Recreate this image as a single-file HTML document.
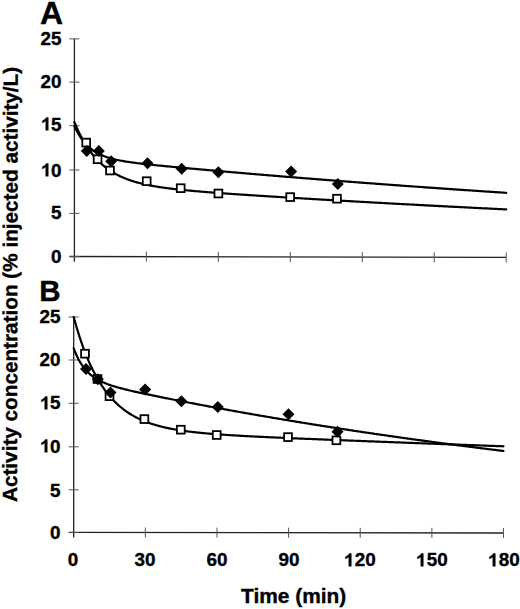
<!DOCTYPE html>
<html><head><meta charset="utf-8"><style>
html,body{margin:0;padding:0;background:#fff;}
body{width:520px;height:609px;position:relative;overflow:hidden;font-family:"Liberation Sans",sans-serif;font-weight:bold;color:#000;-webkit-text-stroke:0.35px #000;}
svg.main{position:absolute;left:0;top:0;}
.yt{position:absolute;left:0;width:61px;text-align:right;font-size:18.7px;line-height:21px;transform:scaleX(1.01);transform-origin:100% 50%;}
.xt{position:absolute;top:549px;width:60px;text-align:center;font-size:18.7px;line-height:21px;transform:scaleX(1.01);transform-origin:50% 50%;}
.one{width:0.5562em;height:0.7158em;vertical-align:baseline;display:inline-block;overflow:visible;}
.one path{fill:#000;stroke:#000;stroke-width:38px;}
.pl{position:absolute;font-size:30.5px;line-height:34px;}
.xl{position:absolute;left:241px;top:584px;font-size:20.5px;line-height:24px;white-space:nowrap;transform:scaleX(1.02);transform-origin:0 0;}
.yl{position:absolute;left:0;top:0;font-size:20.5px;line-height:24px;white-space:nowrap;transform-origin:0 0;}
</style></head><body>
<svg class="main" width="520" height="609" viewBox="0 0 520 609">
<line x1="74.40" y1="38.80" x2="74.40" y2="261.70" stroke="#222" stroke-width="1.3"/>
<line x1="69.40" y1="256.50" x2="506.20" y2="257.40" stroke="#222" stroke-width="1.3"/>
<line x1="69.40" y1="256.60" x2="79.40" y2="256.60" stroke="#555" stroke-width="1"/>
<line x1="69.40" y1="213.40" x2="79.40" y2="213.40" stroke="#555" stroke-width="1"/>
<line x1="69.40" y1="170.00" x2="79.40" y2="170.00" stroke="#555" stroke-width="1"/>
<line x1="69.40" y1="125.70" x2="79.40" y2="125.70" stroke="#555" stroke-width="1"/>
<line x1="69.40" y1="82.10" x2="79.40" y2="82.10" stroke="#555" stroke-width="1"/>
<line x1="69.40" y1="38.90" x2="79.40" y2="38.90" stroke="#555" stroke-width="1"/>
<line x1="146.37" y1="251.66" x2="146.37" y2="261.66" stroke="#555" stroke-width="1"/>
<line x1="218.33" y1="251.81" x2="218.33" y2="261.81" stroke="#555" stroke-width="1"/>
<line x1="290.30" y1="251.96" x2="290.30" y2="261.96" stroke="#555" stroke-width="1"/>
<line x1="362.27" y1="252.10" x2="362.27" y2="262.10" stroke="#555" stroke-width="1"/>
<line x1="434.23" y1="252.25" x2="434.23" y2="262.25" stroke="#555" stroke-width="1"/>
<line x1="506.20" y1="252.40" x2="506.20" y2="262.40" stroke="#555" stroke-width="1"/>
<path d="M74.40,125.96 L75.60,128.52 L76.80,130.90 L78.00,133.09 L79.20,135.13 L80.40,137.02 L81.60,138.77 L82.80,140.39 L84.00,141.90 L85.20,143.30 L86.39,144.60 L87.59,145.81 L88.79,146.93 L89.99,147.98 L91.19,148.95 L92.39,149.86 L93.59,150.71 L94.79,151.50 L95.99,152.23 L97.19,152.92 L98.39,153.57 L99.59,154.17 L100.79,154.74 L101.99,155.27 L103.19,155.77 L104.39,156.24 L105.59,156.68 L106.78,157.10 L107.98,157.49 L109.18,157.86 L110.38,158.22 L111.58,158.55 L112.78,158.87 L113.98,159.17 L115.18,159.45 L116.38,159.73 L117.58,159.99 L118.78,160.24 L119.98,160.48 L121.18,160.71 L122.38,160.93 L123.58,161.14 L124.78,161.34 L125.98,161.54 L127.18,161.73 L128.38,161.92 L129.57,162.10 L130.77,162.27 L131.97,162.44 L133.17,162.61 L134.37,162.77 L135.57,162.93 L136.77,163.08 L137.97,163.23 L139.17,163.38 L140.37,163.52 L141.57,163.66 L142.77,163.80 L143.97,163.94 L145.17,164.08 L146.37,164.21 L147.57,164.34 L148.77,164.47 L149.97,164.60 L151.16,164.73 L152.36,164.86 L153.56,164.98 L154.76,165.11 L155.96,165.23 L157.16,165.35 L158.36,165.47 L159.56,165.59 L160.76,165.71 L161.96,165.83 L163.16,165.95 L164.36,166.07 L165.56,166.18 L166.76,166.30 L167.96,166.41 L169.16,166.53 L170.36,166.64 L171.56,166.76 L172.75,166.87 L173.95,166.98 L175.15,167.10 L176.35,167.21 L177.55,167.32 L178.75,167.43 L179.95,167.54 L181.15,167.66 L182.35,167.77 L183.55,167.88 L184.75,167.99 L185.95,168.10 L187.15,168.21 L188.35,168.32 L189.55,168.43 L190.75,168.53 L191.95,168.64 L193.14,168.75 L194.34,168.86 L195.54,168.97 L196.74,169.08 L197.94,169.19 L199.14,169.29 L200.34,169.40 L201.54,169.51 L202.74,169.61 L203.94,169.72 L205.14,169.83 L206.34,169.94 L207.54,170.04 L208.74,170.15 L209.94,170.25 L211.14,170.36 L212.34,170.47 L213.54,170.57 L214.73,170.68 L215.93,170.78 L217.13,170.89 L218.33,170.99 L219.53,171.10 L220.73,171.20 L221.93,171.31 L223.13,171.41 L224.33,171.52 L225.53,171.62 L226.73,171.73 L227.93,171.83 L229.13,171.94 L230.33,172.04 L231.53,172.14 L232.73,172.25 L233.93,172.35 L235.13,172.45 L236.32,172.56 L237.52,172.66 L238.72,172.76 L239.92,172.86 L241.12,172.97 L242.32,173.07 L243.52,173.17 L244.72,173.27 L245.92,173.38 L247.12,173.48 L248.32,173.58 L249.52,173.68 L250.72,173.78 L251.92,173.89 L253.12,173.99 L254.32,174.09 L255.52,174.19 L256.72,174.29 L257.91,174.39 L259.11,174.49 L260.31,174.59 L261.51,174.69 L262.71,174.79 L263.91,174.89 L265.11,174.99 L266.31,175.09 L267.51,175.19 L268.71,175.29 L269.91,175.39 L271.11,175.49 L272.31,175.59 L273.51,175.69 L274.71,175.79 L275.91,175.89 L277.11,175.99 L278.31,176.09 L279.50,176.19 L280.70,176.29 L281.90,176.38 L283.10,176.48 L284.30,176.58 L285.50,176.68 L286.70,176.78 L287.90,176.87 L289.10,176.97 L290.30,177.07 L291.50,177.17 L292.70,177.26 L293.90,177.36 L295.10,177.46 L296.30,177.56 L297.50,177.65 L298.70,177.75 L299.90,177.85 L301.10,177.94 L302.29,178.04 L303.49,178.14 L304.69,178.23 L305.89,178.33 L307.09,178.42 L308.29,178.52 L309.49,178.62 L310.69,178.71 L311.89,178.81 L313.09,178.90 L314.29,179.00 L315.49,179.09 L316.69,179.19 L317.89,179.28 L319.09,179.38 L320.29,179.47 L321.49,179.57 L322.68,179.66 L323.88,179.75 L325.08,179.85 L326.28,179.94 L327.48,180.04 L328.68,180.13 L329.88,180.22 L331.08,180.32 L332.28,180.41 L333.48,180.50 L334.68,180.60 L335.88,180.69 L337.08,180.78 L338.28,180.88 L339.48,180.97 L340.68,181.06 L341.88,181.16 L343.08,181.25 L344.27,181.34 L345.47,181.43 L346.67,181.52 L347.87,181.62 L349.07,181.71 L350.27,181.80 L351.47,181.89 L352.67,181.98 L353.87,182.08 L355.07,182.17 L356.27,182.26 L357.47,182.35 L358.67,182.44 L359.87,182.53 L361.07,182.62 L362.27,182.71 L363.47,182.80 L364.67,182.89 L365.87,182.98 L367.06,183.07 L368.26,183.16 L369.46,183.25 L370.66,183.34 L371.86,183.43 L373.06,183.52 L374.26,183.61 L375.46,183.70 L376.66,183.79 L377.86,183.88 L379.06,183.97 L380.26,184.06 L381.46,184.15 L382.66,184.24 L383.86,184.33 L385.06,184.41 L386.26,184.50 L387.45,184.59 L388.65,184.68 L389.85,184.77 L391.05,184.86 L392.25,184.94 L393.45,185.03 L394.65,185.12 L395.85,185.21 L397.05,185.29 L398.25,185.38 L399.45,185.47 L400.65,185.56 L401.85,185.64 L403.05,185.73 L404.25,185.82 L405.45,185.90 L406.65,185.99 L407.85,186.08 L409.04,186.16 L410.24,186.25 L411.44,186.34 L412.64,186.42 L413.84,186.51 L415.04,186.59 L416.24,186.68 L417.44,186.77 L418.64,186.85 L419.84,186.94 L421.04,187.02 L422.24,187.11 L423.44,187.19 L424.64,187.28 L425.84,187.36 L427.04,187.45 L428.24,187.53 L429.44,187.62 L430.63,187.70 L431.83,187.79 L433.03,187.87 L434.23,187.96 L435.43,188.04 L436.63,188.12 L437.83,188.21 L439.03,188.29 L440.23,188.38 L441.43,188.46 L442.63,188.54 L443.83,188.63 L445.03,188.71 L446.23,188.79 L447.43,188.88 L448.63,188.96 L449.83,189.04 L451.03,189.12 L452.23,189.21 L453.42,189.29 L454.62,189.37 L455.82,189.45 L457.02,189.54 L458.22,189.62 L459.42,189.70 L460.62,189.78 L461.82,189.87 L463.02,189.95 L464.22,190.03 L465.42,190.11 L466.62,190.19 L467.82,190.27 L469.02,190.35 L470.22,190.44 L471.42,190.52 L472.62,190.60 L473.81,190.68 L475.01,190.76 L476.21,190.84 L477.41,190.92 L478.61,191.00 L479.81,191.08 L481.01,191.16 L482.21,191.24 L483.41,191.32 L484.61,191.40 L485.81,191.48 L487.01,191.56 L488.21,191.64 L489.41,191.72 L490.61,191.80 L491.81,191.88 L493.01,191.96 L494.21,192.04 L495.40,192.12 L496.60,192.20 L497.80,192.28 L499.00,192.36 L500.20,192.43 L501.40,192.51 L502.60,192.59 L503.80,192.67 L505.00,192.75 L506.20,192.83" fill="none" stroke="#000" stroke-width="2.2" stroke-linejoin="round" stroke-linecap="round"/>
<path d="M74.40,122.11 L75.60,124.99 L76.80,127.75 L78.00,130.38 L79.20,132.89 L80.40,135.29 L81.60,137.59 L82.80,139.79 L84.00,141.89 L85.20,143.89 L86.39,145.81 L87.59,147.65 L88.79,149.41 L89.99,151.09 L91.19,152.69 L92.39,154.23 L93.59,155.70 L94.79,157.11 L95.99,158.46 L97.19,159.74 L98.39,160.98 L99.59,162.16 L100.79,163.29 L101.99,164.38 L103.19,165.42 L104.39,166.41 L105.59,167.36 L106.78,168.28 L107.98,169.15 L109.18,169.99 L110.38,170.80 L111.58,171.57 L112.78,172.31 L113.98,173.02 L115.18,173.70 L116.38,174.36 L117.58,174.98 L118.78,175.59 L119.98,176.17 L121.18,176.73 L122.38,177.26 L123.58,177.78 L124.78,178.27 L125.98,178.75 L127.18,179.21 L128.38,179.65 L129.57,180.07 L130.77,180.48 L131.97,180.88 L133.17,181.26 L134.37,181.62 L135.57,181.98 L136.77,182.32 L137.97,182.65 L139.17,182.96 L140.37,183.27 L141.57,183.57 L142.77,183.85 L143.97,184.13 L145.17,184.40 L146.37,184.66 L147.57,184.91 L148.77,185.16 L149.97,185.39 L151.16,185.62 L152.36,185.85 L153.56,186.06 L154.76,186.27 L155.96,186.48 L157.16,186.68 L158.36,186.87 L159.56,187.06 L160.76,187.24 L161.96,187.42 L163.16,187.59 L164.36,187.76 L165.56,187.93 L166.76,188.09 L167.96,188.25 L169.16,188.40 L170.36,188.55 L171.56,188.70 L172.75,188.85 L173.95,188.99 L175.15,189.13 L176.35,189.26 L177.55,189.40 L178.75,189.53 L179.95,189.66 L181.15,189.78 L182.35,189.91 L183.55,190.03 L184.75,190.15 L185.95,190.27 L187.15,190.38 L188.35,190.50 L189.55,190.61 L190.75,190.72 L191.95,190.83 L193.14,190.94 L194.34,191.05 L195.54,191.15 L196.74,191.26 L197.94,191.36 L199.14,191.46 L200.34,191.56 L201.54,191.66 L202.74,191.76 L203.94,191.86 L205.14,191.96 L206.34,192.05 L207.54,192.15 L208.74,192.24 L209.94,192.33 L211.14,192.43 L212.34,192.52 L213.54,192.61 L214.73,192.70 L215.93,192.79 L217.13,192.88 L218.33,192.97 L219.53,193.06 L220.73,193.14 L221.93,193.23 L223.13,193.32 L224.33,193.40 L225.53,193.49 L226.73,193.57 L227.93,193.66 L229.13,193.74 L230.33,193.83 L231.53,193.91 L232.73,193.99 L233.93,194.07 L235.13,194.16 L236.32,194.24 L237.52,194.32 L238.72,194.40 L239.92,194.48 L241.12,194.56 L242.32,194.64 L243.52,194.72 L244.72,194.80 L245.92,194.88 L247.12,194.96 L248.32,195.04 L249.52,195.12 L250.72,195.20 L251.92,195.27 L253.12,195.35 L254.32,195.43 L255.52,195.51 L256.72,195.58 L257.91,195.66 L259.11,195.74 L260.31,195.82 L261.51,195.89 L262.71,195.97 L263.91,196.05 L265.11,196.12 L266.31,196.20 L267.51,196.27 L268.71,196.35 L269.91,196.42 L271.11,196.50 L272.31,196.57 L273.51,196.65 L274.71,196.72 L275.91,196.80 L277.11,196.87 L278.31,196.95 L279.50,197.02 L280.70,197.10 L281.90,197.17 L283.10,197.24 L284.30,197.32 L285.50,197.39 L286.70,197.46 L287.90,197.54 L289.10,197.61 L290.30,197.68 L291.50,197.76 L292.70,197.83 L293.90,197.90 L295.10,197.98 L296.30,198.05 L297.50,198.12 L298.70,198.19 L299.90,198.26 L301.10,198.34 L302.29,198.41 L303.49,198.48 L304.69,198.55 L305.89,198.62 L307.09,198.70 L308.29,198.77 L309.49,198.84 L310.69,198.91 L311.89,198.98 L313.09,199.05 L314.29,199.12 L315.49,199.19 L316.69,199.26 L317.89,199.34 L319.09,199.41 L320.29,199.48 L321.49,199.55 L322.68,199.62 L323.88,199.69 L325.08,199.76 L326.28,199.83 L327.48,199.90 L328.68,199.97 L329.88,200.04 L331.08,200.11 L332.28,200.18 L333.48,200.25 L334.68,200.31 L335.88,200.38 L337.08,200.45 L338.28,200.52 L339.48,200.59 L340.68,200.66 L341.88,200.73 L343.08,200.80 L344.27,200.87 L345.47,200.94 L346.67,201.00 L347.87,201.07 L349.07,201.14 L350.27,201.21 L351.47,201.28 L352.67,201.35 L353.87,201.41 L355.07,201.48 L356.27,201.55 L357.47,201.62 L358.67,201.68 L359.87,201.75 L361.07,201.82 L362.27,201.89 L363.47,201.95 L364.67,202.02 L365.87,202.09 L367.06,202.16 L368.26,202.22 L369.46,202.29 L370.66,202.36 L371.86,202.42 L373.06,202.49 L374.26,202.56 L375.46,202.62 L376.66,202.69 L377.86,202.76 L379.06,202.82 L380.26,202.89 L381.46,202.95 L382.66,203.02 L383.86,203.09 L385.06,203.15 L386.26,203.22 L387.45,203.28 L388.65,203.35 L389.85,203.41 L391.05,203.48 L392.25,203.55 L393.45,203.61 L394.65,203.68 L395.85,203.74 L397.05,203.81 L398.25,203.87 L399.45,203.94 L400.65,204.00 L401.85,204.07 L403.05,204.13 L404.25,204.19 L405.45,204.26 L406.65,204.32 L407.85,204.39 L409.04,204.45 L410.24,204.52 L411.44,204.58 L412.64,204.64 L413.84,204.71 L415.04,204.77 L416.24,204.84 L417.44,204.90 L418.64,204.96 L419.84,205.03 L421.04,205.09 L422.24,205.15 L423.44,205.22 L424.64,205.28 L425.84,205.34 L427.04,205.41 L428.24,205.47 L429.44,205.53 L430.63,205.60 L431.83,205.66 L433.03,205.72 L434.23,205.78 L435.43,205.85 L436.63,205.91 L437.83,205.97 L439.03,206.03 L440.23,206.10 L441.43,206.16 L442.63,206.22 L443.83,206.28 L445.03,206.34 L446.23,206.41 L447.43,206.47 L448.63,206.53 L449.83,206.59 L451.03,206.65 L452.23,206.71 L453.42,206.78 L454.62,206.84 L455.82,206.90 L457.02,206.96 L458.22,207.02 L459.42,207.08 L460.62,207.14 L461.82,207.20 L463.02,207.26 L464.22,207.32 L465.42,207.39 L466.62,207.45 L467.82,207.51 L469.02,207.57 L470.22,207.63 L471.42,207.69 L472.62,207.75 L473.81,207.81 L475.01,207.87 L476.21,207.93 L477.41,207.99 L478.61,208.05 L479.81,208.11 L481.01,208.17 L482.21,208.23 L483.41,208.29 L484.61,208.35 L485.81,208.41 L487.01,208.47 L488.21,208.52 L489.41,208.58 L490.61,208.64 L491.81,208.70 L493.01,208.76 L494.21,208.82 L495.40,208.88 L496.60,208.94 L497.80,209.00 L499.00,209.05 L500.20,209.11 L501.40,209.17 L502.60,209.23 L503.80,209.29 L505.00,209.35 L506.20,209.41" fill="none" stroke="#000" stroke-width="2.2" stroke-linejoin="round" stroke-linecap="round"/>
<rect x="82.30" y="138.70" width="7.80" height="7.80" fill="#fff" stroke="#000" stroke-width="1.8"/>
<rect x="93.70" y="155.30" width="7.80" height="7.80" fill="#fff" stroke="#000" stroke-width="1.8"/>
<rect x="106.10" y="166.60" width="7.80" height="7.80" fill="#fff" stroke="#000" stroke-width="1.8"/>
<rect x="142.80" y="177.30" width="7.80" height="7.80" fill="#fff" stroke="#000" stroke-width="1.8"/>
<rect x="176.80" y="184.30" width="7.80" height="7.80" fill="#fff" stroke="#000" stroke-width="1.8"/>
<rect x="214.50" y="189.60" width="7.80" height="7.80" fill="#fff" stroke="#000" stroke-width="1.8"/>
<rect x="286.30" y="193.20" width="7.80" height="7.80" fill="#fff" stroke="#000" stroke-width="1.8"/>
<rect x="333.10" y="194.80" width="7.80" height="7.80" fill="#fff" stroke="#000" stroke-width="1.8"/>
<path d="M86.80 145.00L92.80 151.00L86.80 157.00L80.80 151.00Z" fill="#000"/>
<path d="M98.80 145.00L104.80 151.00L98.80 157.00L92.80 151.00Z" fill="#000"/>
<path d="M111.20 155.20L117.20 161.20L111.20 167.20L105.20 161.20Z" fill="#000"/>
<path d="M147.50 157.20L153.50 163.20L147.50 169.20L141.50 163.20Z" fill="#000"/>
<path d="M181.70 162.70L187.70 168.70L181.70 174.70L175.70 168.70Z" fill="#000"/>
<path d="M218.40 166.20L224.40 172.20L218.40 178.20L212.40 172.20Z" fill="#000"/>
<path d="M291.10 165.60L297.10 171.60L291.10 177.60L285.10 171.60Z" fill="#000"/>
<path d="M337.80 178.00L343.80 184.00L337.80 190.00L331.80 184.00Z" fill="#000"/>
<line x1="73.70" y1="317.00" x2="73.70" y2="537.60" stroke="#222" stroke-width="1.3"/>
<line x1="68.70" y1="532.40" x2="503.50" y2="533.00" stroke="#222" stroke-width="1.3"/>
<line x1="68.70" y1="532.60" x2="78.70" y2="532.60" stroke="#555" stroke-width="1"/>
<line x1="68.70" y1="489.80" x2="78.70" y2="489.80" stroke="#555" stroke-width="1"/>
<line x1="68.70" y1="446.80" x2="78.70" y2="446.80" stroke="#555" stroke-width="1"/>
<line x1="68.70" y1="403.30" x2="78.70" y2="403.30" stroke="#555" stroke-width="1"/>
<line x1="68.70" y1="360.00" x2="78.70" y2="360.00" stroke="#555" stroke-width="1"/>
<line x1="68.70" y1="317.00" x2="78.70" y2="317.00" stroke="#555" stroke-width="1"/>
<line x1="145.33" y1="527.51" x2="145.33" y2="537.51" stroke="#555" stroke-width="1"/>
<line x1="216.97" y1="527.60" x2="216.97" y2="537.60" stroke="#555" stroke-width="1"/>
<line x1="288.60" y1="527.70" x2="288.60" y2="537.70" stroke="#555" stroke-width="1"/>
<line x1="360.23" y1="527.80" x2="360.23" y2="537.80" stroke="#555" stroke-width="1"/>
<line x1="431.87" y1="527.90" x2="431.87" y2="537.90" stroke="#555" stroke-width="1"/>
<line x1="503.50" y1="528.00" x2="503.50" y2="538.00" stroke="#555" stroke-width="1"/>
<path d="M73.70,348.38 L74.89,351.46 L76.09,354.27 L77.28,356.85 L78.48,359.21 L79.67,361.38 L80.86,363.37 L82.06,365.20 L83.25,366.88 L84.45,368.44 L85.64,369.87 L86.83,371.19 L88.03,372.42 L89.22,373.55 L90.41,374.61 L91.61,375.59 L92.80,376.50 L94.00,377.35 L95.19,378.15 L96.38,378.90 L97.58,379.60 L98.77,380.26 L99.97,380.88 L101.16,381.47 L102.35,382.03 L103.55,382.56 L104.74,383.06 L105.94,383.54 L107.13,384.00 L108.32,384.44 L109.52,384.87 L110.71,385.27 L111.90,385.67 L113.10,386.05 L114.29,386.41 L115.49,386.77 L116.68,387.12 L117.87,387.46 L119.07,387.79 L120.26,388.11 L121.46,388.42 L122.65,388.73 L123.84,389.04 L125.04,389.33 L126.23,389.63 L127.43,389.92 L128.62,390.20 L129.81,390.48 L131.01,390.76 L132.20,391.04 L133.39,391.31 L134.59,391.58 L135.78,391.84 L136.98,392.11 L138.17,392.37 L139.36,392.63 L140.56,392.89 L141.75,393.15 L142.95,393.40 L144.14,393.66 L145.33,393.91 L146.53,394.16 L147.72,394.41 L148.92,394.66 L150.11,394.91 L151.30,395.16 L152.50,395.41 L153.69,395.65 L154.88,395.90 L156.08,396.14 L157.27,396.38 L158.47,396.63 L159.66,396.87 L160.85,397.11 L162.05,397.35 L163.24,397.59 L164.44,397.83 L165.63,398.07 L166.82,398.31 L168.02,398.54 L169.21,398.78 L170.41,399.02 L171.60,399.25 L172.79,399.49 L173.99,399.72 L175.18,399.96 L176.37,400.19 L177.57,400.43 L178.76,400.66 L179.96,400.89 L181.15,401.12 L182.34,401.36 L183.54,401.59 L184.73,401.82 L185.93,402.05 L187.12,402.28 L188.31,402.51 L189.51,402.74 L190.70,402.97 L191.90,403.19 L193.09,403.42 L194.28,403.65 L195.48,403.88 L196.67,404.10 L197.86,404.33 L199.06,404.56 L200.25,404.78 L201.45,405.01 L202.64,405.23 L203.83,405.46 L205.03,405.68 L206.22,405.90 L207.42,406.13 L208.61,406.35 L209.80,406.57 L211.00,406.79 L212.19,407.01 L213.38,407.23 L214.58,407.46 L215.77,407.68 L216.97,407.90 L218.16,408.12 L219.35,408.33 L220.55,408.55 L221.74,408.77 L222.94,408.99 L224.13,409.21 L225.32,409.42 L226.52,409.64 L227.71,409.86 L228.91,410.07 L230.10,410.29 L231.29,410.50 L232.49,410.72 L233.68,410.93 L234.88,411.15 L236.07,411.36 L237.26,411.58 L238.46,411.79 L239.65,412.00 L240.84,412.21 L242.04,412.43 L243.23,412.64 L244.43,412.85 L245.62,413.06 L246.81,413.27 L248.01,413.48 L249.20,413.69 L250.40,413.90 L251.59,414.11 L252.78,414.32 L253.98,414.53 L255.17,414.73 L256.37,414.94 L257.56,415.15 L258.75,415.36 L259.95,415.56 L261.14,415.77 L262.33,415.97 L263.53,416.18 L264.72,416.38 L265.92,416.59 L267.11,416.79 L268.30,417.00 L269.50,417.20 L270.69,417.40 L271.89,417.61 L273.08,417.81 L274.27,418.01 L275.47,418.21 L276.66,418.42 L277.86,418.62 L279.05,418.82 L280.24,419.02 L281.44,419.22 L282.63,419.42 L283.82,419.62 L285.02,419.82 L286.21,420.01 L287.41,420.21 L288.60,420.41 L289.79,420.61 L290.99,420.81 L292.18,421.00 L293.38,421.20 L294.57,421.40 L295.76,421.59 L296.96,421.79 L298.15,421.98 L299.34,422.18 L300.54,422.37 L301.73,422.57 L302.93,422.76 L304.12,422.95 L305.31,423.15 L306.51,423.34 L307.70,423.53 L308.90,423.73 L310.09,423.92 L311.28,424.11 L312.48,424.30 L313.67,424.49 L314.87,424.68 L316.06,424.87 L317.25,425.06 L318.45,425.25 L319.64,425.44 L320.84,425.63 L322.03,425.82 L323.22,426.01 L324.42,426.19 L325.61,426.38 L326.80,426.57 L328.00,426.76 L329.19,426.94 L330.39,427.13 L331.58,427.32 L332.77,427.50 L333.97,427.69 L335.16,427.87 L336.36,428.06 L337.55,428.24 L338.74,428.42 L339.94,428.61 L341.13,428.79 L342.32,428.97 L343.52,429.16 L344.71,429.34 L345.91,429.52 L347.10,429.70 L348.29,429.89 L349.49,430.07 L350.68,430.25 L351.88,430.43 L353.07,430.61 L354.26,430.79 L355.46,430.97 L356.65,431.15 L357.85,431.33 L359.04,431.50 L360.23,431.68 L361.43,431.86 L362.62,432.04 L363.81,432.22 L365.01,432.39 L366.20,432.57 L367.40,432.75 L368.59,432.92 L369.78,433.10 L370.98,433.27 L372.17,433.45 L373.37,433.62 L374.56,433.80 L375.75,433.97 L376.95,434.15 L378.14,434.32 L379.34,434.49 L380.53,434.67 L381.72,434.84 L382.92,435.01 L384.11,435.19 L385.31,435.36 L386.50,435.53 L387.69,435.70 L388.89,435.87 L390.08,436.04 L391.27,436.21 L392.47,436.38 L393.66,436.55 L394.86,436.72 L396.05,436.89 L397.24,437.06 L398.44,437.23 L399.63,437.40 L400.83,437.57 L402.02,437.73 L403.21,437.90 L404.41,438.07 L405.60,438.23 L406.79,438.40 L407.99,438.57 L409.18,438.73 L410.38,438.90 L411.57,439.06 L412.76,439.23 L413.96,439.39 L415.15,439.56 L416.35,439.72 L417.54,439.89 L418.73,440.05 L419.93,440.21 L421.12,440.38 L422.32,440.54 L423.51,440.70 L424.70,440.87 L425.90,441.03 L427.09,441.19 L428.29,441.35 L429.48,441.51 L430.67,441.67 L431.87,441.83 L433.06,441.99 L434.25,442.15 L435.45,442.31 L436.64,442.47 L437.84,442.63 L439.03,442.79 L440.22,442.95 L441.42,443.11 L442.61,443.27 L443.81,443.42 L445.00,443.58 L446.19,443.74 L447.39,443.90 L448.58,444.05 L449.77,444.21 L450.97,444.37 L452.16,444.52 L453.36,444.68 L454.55,444.83 L455.74,444.99 L456.94,445.14 L458.13,445.30 L459.33,445.45 L460.52,445.61 L461.71,445.76 L462.91,445.91 L464.10,446.07 L465.30,446.22 L466.49,446.37 L467.68,446.52 L468.88,446.68 L470.07,446.83 L471.26,446.98 L472.46,447.13 L473.65,447.28 L474.85,447.43 L476.04,447.58 L477.23,447.73 L478.43,447.88 L479.62,448.03 L480.82,448.18 L482.01,448.33 L483.20,448.48 L484.40,448.63 L485.59,448.78 L486.79,448.93 L487.98,449.08 L489.17,449.22 L490.37,449.37 L491.56,449.52 L492.76,449.66 L493.95,449.81 L495.14,449.96 L496.34,450.10 L497.53,450.25 L498.72,450.40 L499.92,450.54 L501.11,450.69 L502.31,450.83 L503.50,450.98" fill="none" stroke="#000" stroke-width="2.2" stroke-linejoin="round" stroke-linecap="round"/>
<path d="M73.70,317.00 L74.89,321.35 L76.09,325.53 L77.28,329.55 L78.48,333.42 L79.67,337.15 L80.86,340.74 L82.06,344.19 L83.25,347.51 L84.45,350.70 L85.64,353.78 L86.83,356.74 L88.03,359.58 L89.22,362.32 L90.41,364.96 L91.61,367.50 L92.80,369.95 L94.00,372.30 L95.19,374.56 L96.38,376.74 L97.58,378.84 L98.77,380.86 L99.97,382.81 L101.16,384.68 L102.35,386.48 L103.55,388.22 L104.74,389.89 L105.94,391.49 L107.13,393.04 L108.32,394.54 L109.52,395.97 L110.71,397.36 L111.90,398.69 L113.10,399.97 L114.29,401.21 L115.49,402.40 L116.68,403.55 L117.87,404.65 L119.07,405.72 L120.26,406.75 L121.46,407.74 L122.65,408.69 L123.84,409.61 L125.04,410.49 L126.23,411.35 L127.43,412.17 L128.62,412.96 L129.81,413.73 L131.01,414.46 L132.20,415.17 L133.39,415.86 L134.59,416.52 L135.78,417.16 L136.98,417.78 L138.17,418.37 L139.36,418.94 L140.56,419.50 L141.75,420.03 L142.95,420.54 L144.14,421.04 L145.33,421.52 L146.53,421.99 L147.72,422.43 L148.92,422.87 L150.11,423.28 L151.30,423.69 L152.50,424.08 L153.69,424.46 L154.88,424.82 L156.08,425.17 L157.27,425.51 L158.47,425.84 L159.66,426.16 L160.85,426.47 L162.05,426.77 L163.24,427.06 L164.44,427.34 L165.63,427.61 L166.82,427.88 L168.02,428.13 L169.21,428.38 L170.41,428.62 L171.60,428.85 L172.79,429.07 L173.99,429.29 L175.18,429.50 L176.37,429.71 L177.57,429.91 L178.76,430.10 L179.96,430.29 L181.15,430.47 L182.34,430.65 L183.54,430.82 L184.73,430.99 L185.93,431.16 L187.12,431.32 L188.31,431.47 L189.51,431.62 L190.70,431.77 L191.90,431.91 L193.09,432.05 L194.28,432.19 L195.48,432.32 L196.67,432.45 L197.86,432.58 L199.06,432.70 L200.25,432.82 L201.45,432.94 L202.64,433.05 L203.83,433.16 L205.03,433.27 L206.22,433.38 L207.42,433.49 L208.61,433.59 L209.80,433.69 L211.00,433.79 L212.19,433.89 L213.38,433.98 L214.58,434.08 L215.77,434.17 L216.97,434.26 L218.16,434.35 L219.35,434.43 L220.55,434.52 L221.74,434.60 L222.94,434.69 L224.13,434.77 L225.32,434.85 L226.52,434.93 L227.71,435.00 L228.91,435.08 L230.10,435.16 L231.29,435.23 L232.49,435.30 L233.68,435.38 L234.88,435.45 L236.07,435.52 L237.26,435.59 L238.46,435.66 L239.65,435.72 L240.84,435.79 L242.04,435.86 L243.23,435.92 L244.43,435.99 L245.62,436.05 L246.81,436.12 L248.01,436.18 L249.20,436.24 L250.40,436.30 L251.59,436.37 L252.78,436.43 L253.98,436.49 L255.17,436.55 L256.37,436.61 L257.56,436.66 L258.75,436.72 L259.95,436.78 L261.14,436.84 L262.33,436.90 L263.53,436.95 L264.72,437.01 L265.92,437.06 L267.11,437.12 L268.30,437.18 L269.50,437.23 L270.69,437.29 L271.89,437.34 L273.08,437.39 L274.27,437.45 L275.47,437.50 L276.66,437.56 L277.86,437.61 L279.05,437.66 L280.24,437.71 L281.44,437.77 L282.63,437.82 L283.82,437.87 L285.02,437.92 L286.21,437.97 L287.41,438.03 L288.60,438.08 L289.79,438.13 L290.99,438.18 L292.18,438.23 L293.38,438.28 L294.57,438.33 L295.76,438.38 L296.96,438.43 L298.15,438.48 L299.34,438.53 L300.54,438.58 L301.73,438.63 L302.93,438.68 L304.12,438.73 L305.31,438.78 L306.51,438.83 L307.70,438.88 L308.90,438.92 L310.09,438.97 L311.28,439.02 L312.48,439.07 L313.67,439.12 L314.87,439.17 L316.06,439.22 L317.25,439.26 L318.45,439.31 L319.64,439.36 L320.84,439.41 L322.03,439.46 L323.22,439.50 L324.42,439.55 L325.61,439.60 L326.80,439.65 L328.00,439.69 L329.19,439.74 L330.39,439.79 L331.58,439.84 L332.77,439.88 L333.97,439.93 L335.16,439.98 L336.36,440.03 L337.55,440.07 L338.74,440.12 L339.94,440.17 L341.13,440.21 L342.32,440.26 L343.52,440.31 L344.71,440.35 L345.91,440.40 L347.10,440.45 L348.29,440.49 L349.49,440.54 L350.68,440.59 L351.88,440.63 L353.07,440.68 L354.26,440.73 L355.46,440.77 L356.65,440.82 L357.85,440.87 L359.04,440.91 L360.23,440.96 L361.43,441.00 L362.62,441.05 L363.81,441.10 L365.01,441.14 L366.20,441.19 L367.40,441.23 L368.59,441.28 L369.78,441.33 L370.98,441.37 L372.17,441.42 L373.37,441.46 L374.56,441.51 L375.75,441.56 L376.95,441.60 L378.14,441.65 L379.34,441.69 L380.53,441.74 L381.72,441.78 L382.92,441.83 L384.11,441.87 L385.31,441.92 L386.50,441.97 L387.69,442.01 L388.89,442.06 L390.08,442.10 L391.27,442.15 L392.47,442.19 L393.66,442.24 L394.86,442.28 L396.05,442.33 L397.24,442.37 L398.44,442.42 L399.63,442.46 L400.83,442.51 L402.02,442.55 L403.21,442.60 L404.41,442.64 L405.60,442.69 L406.79,442.73 L407.99,442.78 L409.18,442.82 L410.38,442.87 L411.57,442.91 L412.76,442.96 L413.96,443.00 L415.15,443.05 L416.35,443.09 L417.54,443.14 L418.73,443.18 L419.93,443.23 L421.12,443.27 L422.32,443.32 L423.51,443.36 L424.70,443.41 L425.90,443.45 L427.09,443.50 L428.29,443.54 L429.48,443.59 L430.67,443.63 L431.87,443.67 L433.06,443.72 L434.25,443.76 L435.45,443.81 L436.64,443.85 L437.84,443.90 L439.03,443.94 L440.22,443.99 L441.42,444.03 L442.61,444.07 L443.81,444.12 L445.00,444.16 L446.19,444.21 L447.39,444.25 L448.58,444.30 L449.77,444.34 L450.97,444.38 L452.16,444.43 L453.36,444.47 L454.55,444.52 L455.74,444.56 L456.94,444.60 L458.13,444.65 L459.33,444.69 L460.52,444.74 L461.71,444.78 L462.91,444.82 L464.10,444.87 L465.30,444.91 L466.49,444.96 L467.68,445.00 L468.88,445.04 L470.07,445.09 L471.26,445.13 L472.46,445.17 L473.65,445.22 L474.85,445.26 L476.04,445.31 L477.23,445.35 L478.43,445.39 L479.62,445.44 L480.82,445.48 L482.01,445.52 L483.20,445.57 L484.40,445.61 L485.59,445.65 L486.79,445.70 L487.98,445.74 L489.17,445.78 L490.37,445.83 L491.56,445.87 L492.76,445.91 L493.95,445.96 L495.14,446.00 L496.34,446.04 L497.53,446.09 L498.72,446.13 L499.92,446.17 L501.11,446.22 L502.31,446.26 L503.50,446.30" fill="none" stroke="#000" stroke-width="2.2" stroke-linejoin="round" stroke-linecap="round"/>
<rect x="81.10" y="349.80" width="7.80" height="7.80" fill="#fff" stroke="#000" stroke-width="1.8"/>
<rect x="93.60" y="375.10" width="7.80" height="7.80" fill="#fff" stroke="#000" stroke-width="1.8"/>
<rect x="105.60" y="392.30" width="7.80" height="7.80" fill="#fff" stroke="#000" stroke-width="1.8"/>
<rect x="140.50" y="415.20" width="7.80" height="7.80" fill="#fff" stroke="#000" stroke-width="1.8"/>
<rect x="176.90" y="425.80" width="7.80" height="7.80" fill="#fff" stroke="#000" stroke-width="1.8"/>
<rect x="212.80" y="431.10" width="7.80" height="7.80" fill="#fff" stroke="#000" stroke-width="1.8"/>
<rect x="284.10" y="433.20" width="7.80" height="7.80" fill="#fff" stroke="#000" stroke-width="1.8"/>
<rect x="332.50" y="436.40" width="7.80" height="7.80" fill="#fff" stroke="#000" stroke-width="1.8"/>
<path d="M86.00 362.90L92.00 368.90L86.00 374.90L80.00 368.90Z" fill="#000"/>
<path d="M97.80 373.20L103.80 379.20L97.80 385.20L91.80 379.20Z" fill="#000"/>
<path d="M110.50 386.60L116.50 392.60L110.50 398.60L104.50 392.60Z" fill="#000"/>
<path d="M145.10 383.50L151.10 389.50L145.10 395.50L139.10 389.50Z" fill="#000"/>
<path d="M181.40 395.20L187.40 401.20L181.40 407.20L175.40 401.20Z" fill="#000"/>
<path d="M217.80 401.10L223.80 407.10L217.80 413.10L211.80 407.10Z" fill="#000"/>
<path d="M288.50 408.20L294.50 414.20L288.50 420.20L282.50 414.20Z" fill="#000"/>
<path d="M337.50 425.70L343.50 431.70L337.50 437.70L331.50 431.70Z" fill="#000"/>
</svg>
<div class="yt" style="top:245.7px;width:61.5px">0</div>
<div class="yt" style="top:202.0px;width:61.5px">5</div>
<div class="yt" style="top:159.5px;width:61.5px"><svg class="one" viewBox="0 -1466 1139 1466"><path transform="scale(1,-0.965)" d="M815 0H534V1059Q380 915 171 846V1101Q281 1137 410 1237Q539 1338 587 1466H815Z"/></svg>0</div>
<div class="yt" style="top:113.8px;width:61.5px"><svg class="one" viewBox="0 -1466 1139 1466"><path transform="scale(1,-0.965)" d="M815 0H534V1059Q380 915 171 846V1101Q281 1137 410 1237Q539 1338 587 1466H815Z"/></svg>5</div>
<div class="yt" style="top:70.7px;width:61.5px">20</div>
<div class="yt" style="top:28.0px;width:61.5px">25</div>
<div class="yt" style="top:522.2px;width:60.4px">0</div>
<div class="yt" style="top:479.6px;width:60.4px">5</div>
<div class="yt" style="top:435.8px;width:60.4px"><svg class="one" viewBox="0 -1466 1139 1466"><path transform="scale(1,-0.965)" d="M815 0H534V1059Q380 915 171 846V1101Q281 1137 410 1237Q539 1338 587 1466H815Z"/></svg>0</div>
<div class="yt" style="top:392.4px;width:60.4px"><svg class="one" viewBox="0 -1466 1139 1466"><path transform="scale(1,-0.965)" d="M815 0H534V1059Q380 915 171 846V1101Q281 1137 410 1237Q539 1338 587 1466H815Z"/></svg>5</div>
<div class="yt" style="top:349.3px;width:60.4px">20</div>
<div class="yt" style="top:305.7px;width:60.4px">25</div>
<div class="xt" style="left:43.4px">0</div>
<div class="xt" style="left:115.2px">30</div>
<div class="xt" style="left:186.9px">60</div>
<div class="xt" style="left:258.6px">90</div>
<div class="xt" style="left:330.4px"><svg class="one" viewBox="0 -1466 1139 1466"><path transform="scale(1,-0.965)" d="M815 0H534V1059Q380 915 171 846V1101Q281 1137 410 1237Q539 1338 587 1466H815Z"/></svg>20</div>
<div class="xt" style="left:402.1px"><svg class="one" viewBox="0 -1466 1139 1466"><path transform="scale(1,-0.965)" d="M815 0H534V1059Q380 915 171 846V1101Q281 1137 410 1237Q539 1338 587 1466H815Z"/></svg>50</div>
<div class="xt" style="left:473.9px"><svg class="one" viewBox="0 -1466 1139 1466"><path transform="scale(1,-0.965)" d="M815 0H534V1059Q380 915 171 846V1101Q281 1137 410 1237Q539 1338 587 1466H815Z"/></svg>80</div>
<div class="pl" style="left:40px;top:-4px;transform:scaleX(1.05);transform-origin:0 0">A</div>
<div class="pl" style="left:39.3px;top:274px;font-size:29.5px">B</div>
<div class="xl">Time (min)</div>
<div class="yl" style="transform:translate(-2.1px,502px) rotate(-89.89deg) scaleX(1.0107)">Activity concentration (% injected activity/L)</div>
</body></html>
